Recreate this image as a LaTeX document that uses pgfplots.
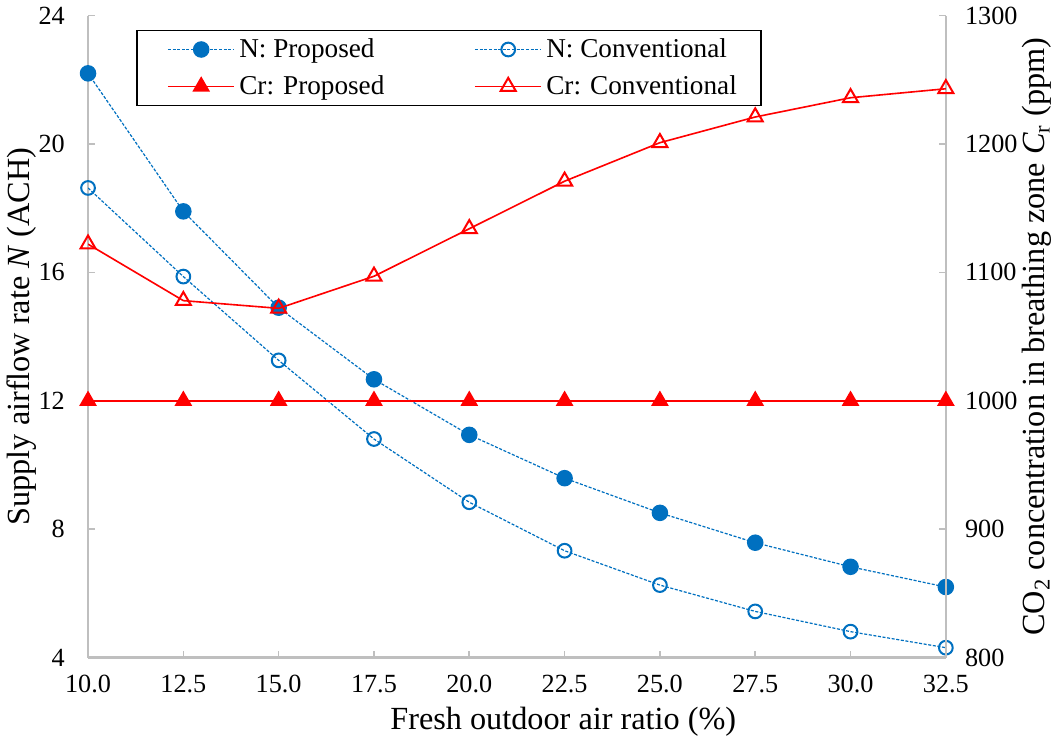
\documentclass[border=0pt]{standalone}
\usepackage{fontspec}
\setmainfont{Liberation Serif}
\usepackage{pgfplots}
\pgfplotsset{compat=1.18}
\definecolor{nblue}{HTML}{0070C0}
\definecolor{spine}{HTML}{BFBFBF}
\begin{document}
\begin{tikzpicture}
\pgfplotsset{
  every axis/.append style={
    width=425.5pt, height=318.5pt, scale only axis,
    xmin=10, xmax=32.5,
    axis line style={spine, line width=1.2pt},
    tick style={spine, line width=0.8pt},
    major tick length=3.5pt,
    tick align=inside,
    /pgf/number format/assume math mode=true,
    /pgf/number format/1000 sep={},
    tick label style={font=\fontsize{13}{15}\selectfont, black},
    label style={font=\fontsize{16}{19}\selectfont},
  }
}
\begin{axis}[
  axis x line*=bottom, axis y line*=left,
  ymin=4, ymax=24, ytick={4,8,...,24},
  xtick={10,12.5,15,17.5,20,22.5,25,27.5,30,32.5},
  xticklabel style={/pgf/number format/fixed, /pgf/number format/fixed zerofill, /pgf/number format/precision=1, /tikz/yshift=-5pt},
  yticklabel style={xshift=-8pt},
  xlabel={Fresh outdoor air ratio (\%)},
  ylabel={Supply airflow rate \textit{N} (ACH)},
  xlabel style={at={(axis description cs:0.554,-0.1005)}, anchor=center},
  ylabel style={at={(axis description cs:-0.0775,0.5)}, anchor=center},
]
\addplot[nblue, line width=0.6pt, dash pattern=on 1.5pt off 0.8pt, mark=*, mark size=3.8pt, mark options={solid}] coordinates {
(10,22.2) (12.5,17.9) (15,14.9) (17.5,12.67) (20,10.94) (22.5,9.59) (25,8.51) (27.5,7.58) (30,6.83) (32.5,6.2)};
\addplot[nblue, line width=0.6pt, dash pattern=on 1.5pt off 0.8pt, mark=o, mark size=3.4pt, mark options={solid, line width=1pt}] coordinates {
(10,18.63) (12.5,15.87) (15,13.26) (17.5,10.81) (20,8.84) (22.5,7.33) (25,6.26) (27.5,5.44) (30,4.81) (32.5,4.31)};
\end{axis}
\begin{axis}[
  axis x line=none, axis y line*=right,
  ymin=800, ymax=1300, ytick={800,900,...,1300},
  yticklabel style={xshift=6pt},
  ylabel={CO\textsubscript{2} concentration in breathing zone \textit{C}\textsubscript{r} (ppm)},
  ylabel style={at={(axis description cs:1.1058,0.5)}, anchor=center},
  legend style={at={(axis description cs:0.056,0.978)}, anchor=north west,
    draw=black, line width=0.8pt, font=\fontsize{13.5}{16}\selectfont,
    legend columns=2, legend cell align=left,
    /tikz/row sep=3.5pt,
    /tikz/every even column/.append style={column sep=30.5pt}},
  legend image code/.code={\path (0pt,0pt); \draw[mark repeat=2, mark phase=2, #1] plot coordinates {(12pt,0pt) (28.5pt,0pt) (45pt,0pt)};},
]
\addlegendimage{nblue, line width=0.6pt, dash pattern=on 1.5pt off 0.8pt, mark=*, mark size=3.8pt, mark options={solid}}
\addlegendentry{N: Proposed}
\addlegendimage{nblue, line width=0.6pt, dash pattern=on 1.5pt off 0.8pt, mark=o, mark size=3.4pt, mark options={solid, line width=1pt}}
\addlegendentry{N: Conventional}
\addplot[red, line width=0.8pt, mark=triangle*, mark size=4.3pt] coordinates {
(10,1000) (12.5,1000) (15,1000) (17.5,1000) (20,1000) (22.5,1000) (25,1000) (27.5,1000) (30,1000) (32.5,1000)};
\addlegendentry{Cr: Proposed}
\addplot[red, line width=0.8pt, mark=triangle, mark size=4.3pt, mark options={line width=1pt}] coordinates {
(10,1122) (12.5,1078) (15,1072) (17.5,1097) (20,1134) (22.5,1171) (25,1201) (27.5,1221) (30,1236) (32.5,1243)};
\addlegendentry{Cr: Conventional\hspace*{7pt}}
\end{axis}
\end{tikzpicture}
\end{document}
